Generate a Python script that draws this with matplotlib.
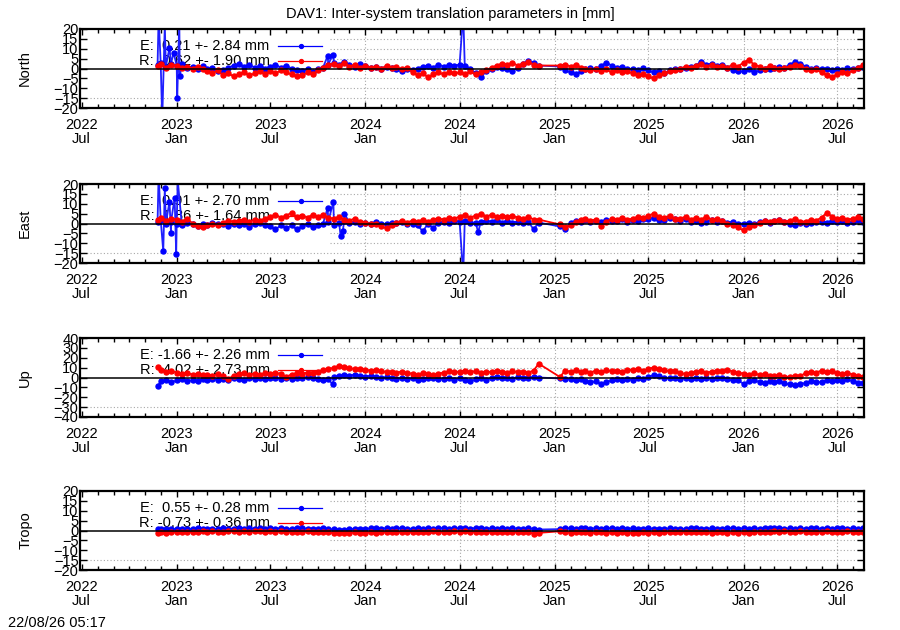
import numpy as np
import pandas as pd
import matplotlib
matplotlib.use("Agg")
import matplotlib.pyplot as plt
import matplotlib.dates as mdates
from matplotlib.patches import Rectangle

nan = np.nan

# Sample epochs: first epoch, then the 1st, 11th and 21st of every month
dates = [pd.Timestamp("2022-11-25")]
for m in pd.period_range("2022-12", "2026-08", freq="M"):
    for d in (1, 11, 21):
        dates.append(pd.Timestamp(m.year, m.month, d))

# rows: Nov/Dec 2022 | Jan-Jun 2023 | Jul-Dec 2023 | ... | Jul-Aug 2026
north_e = [2.0, 3.0, 1.0, 2.5,
           1.5, 2.5, 0.5, 1.0, 0.0, 1.5, -0.5, 0.5, -1.5, -1.0, 0.5, 1.5, 2.5, 1.0, 2.0, 0.5, 1.5, 0.0,
           1.0, 2.0, 0.5, 1.5, 0.0, -1.0, -1.5, -0.5, -2.0, -0.5, 0.5, 2.0, 3.0, 2.0, 3.5, 2.0, 1.0, 2.5,
           1.5, 0.5, 1.0, 0.0, 1.0, 0.5, -0.5, -1.5, -0.5, -1.0, 0.0, 1.0, 1.5, 0.5, 2.0, 1.0, 2.0, 1.5,
           2.0, 1.5, 0.0, -2.5, -4.5, -1.5, 0.0, 1.0, 0.5, -0.5, -1.5, 0.5, 2.5, 4.0, 3.0, 1.5, nan, nan,
           nan, 1.0, -1.0, -2.0, -3.0, -1.5, -0.5, 0.5, -0.5, 1.5, 3.0, 1.5, 0.5, 1.0, -0.5, 0.0, -1.0, 0.5,
           -1.0, -2.0, -1.5, -2.5, -1.0, -0.5, 0.0, 0.5, 1.0, 1.5, 3.5, 2.0, 2.5, 1.5, 2.0, 0.5, -1.0, -1.5,
           -1.5, -0.5, -2.0, -1.0, 0.0, -0.5, 0.5, 1.0, 0.5, 2.0, 3.5, 2.5, 1.0, 0.0, 0.5, -0.5, 0.0, -1.0,
           0.0, -1.0, 0.5, -0.5, 0.5, 1.0]
north_r = [1.5, 2.5, 0.5, 2.0,
           1.5, 0.5, 1.0, 0.0, 1.0, -0.5, -1.5, -2.5, -1.0, -3.5, -2.5, -4.0, -3.0, -2.0, -3.5, -2.5, -1.5, -3.0,
           -1.5, -2.5, -1.0, -2.0, -3.0, -4.0, -3.5, -2.0, -3.0, -1.0, 0.5, 2.0, 2.5, 1.5, 3.0, 1.0, 2.0, 0.5,
           1.5, 0.5, 1.0, 0.0, 1.5, 0.5, 1.0, -0.5, 0.5, -2.0, -3.5, -2.5, -4.5, -3.0, -2.0, -3.0, -2.0, -2.5,
           -2.0, -3.0, -1.5, -3.0, -2.0, -1.0, 0.5, 1.5, 2.5, 2.0, 3.0, 1.5, 2.5, 3.5, 2.0, 1.5, nan, nan,
           nan, 1.5, 2.0, 1.0, 2.0, 0.5, -0.5, -1.0, 0.0, -1.5, -0.5, -2.0, -1.0, -2.0, -1.5, -2.5, -3.5, -3.0,
           -4.0, -5.0, -3.5, -2.5, -1.5, -1.0, 0.0, 1.0, 0.5, 1.5, 2.5, 1.0, 2.0, 1.0, 1.5, 0.5, 2.0, 1.0,
           3.0, 4.5, 2.0, 1.0, 0.0, 1.5, 0.5, -0.5, 0.5, 1.0, 2.0, 1.5, 0.0, -1.0, -0.5, -2.0, -3.5, -4.5,
           -3.0, -2.0, -2.5, -1.0, 0.5, 2.0]
east_e = [1.0, 2.0, 0.0, 1.0,
          0.0, -1.0, 0.5, -0.5, -1.5, 0.0, -1.0, 0.5, -0.5, 0.0, -1.5, -0.5, -1.0, 0.0, -2.0, -0.5, 0.5, -1.0,
          -1.5, -3.0, -1.0, -2.5, -1.0, -3.0, -1.5, -0.5, -2.0, -1.0, 0.0, 1.0, -1.0, 0.5, 1.5, 0.5, 1.0, 0.0,
          0.5, 0.0, 1.0, 0.0, -0.5, 0.5, 0.5, 1.0, 0.0, -0.5, -1.0, -4.0, 0.0, -2.5, 0.5, 1.0, 0.5, 1.5,
          1.0, 1.5, 0.5, 0.5, 1.0, 1.5, 1.0, 2.0, 0.5, 1.5, 0.5, 1.0, 0.5, 1.0, -3.0, 0.5, nan, nan,
          nan, -1.5, -3.0, 0.5, 1.5, 1.0, 2.0, 1.0, 1.5, 1.0, 2.0, 1.5, 1.5, 2.5, 1.0, 2.0, 1.5, 2.5,
          2.5, 3.0, 2.0, 2.0, 3.0, 2.5, 1.5, 2.5, 1.0, 1.5, 0.5, 1.0, 2.0, 1.0, 1.5, 0.5, 1.0, 0.0,
          0.0, 0.5, -0.5, 1.0, 1.5, 0.5, 1.5, 2.0, 1.0, 0.0, -1.0, 0.5, -0.5, 0.5, 1.0, 1.0, 0.5, 1.5,
          1.0, 1.5, 0.5, 1.0, 2.0, 1.0]
east_r = [2.0, 3.0, 1.5, 2.5,
          2.0, 1.0, 2.5, 0.0, -1.5, -2.0, -1.0, 0.0, -1.0, 0.5, 1.5, 1.0, 1.5, 2.0, 1.0, 2.0, 1.5, 2.5,
          3.5, 4.5, 3.0, 4.0, 5.5, 3.5, 4.0, 3.0, 4.5, 3.5, 4.5, 3.0, 2.5, 3.5, 2.0, 1.5, 2.5, 1.0,
          0.5, -0.5, 0.0, -1.5, -2.5, -1.0, 0.5, 1.5, 0.5, 1.5, 1.0, 2.0, 1.0, 2.0, 2.5, 2.0, 3.0, 2.5,
          3.5, 4.5, 3.0, 4.0, 5.0, 3.5, 4.5, 3.5, 4.0, 3.5, 4.0, 3.0, 2.5, 3.5, 2.0, 2.0, nan, nan,
          nan, -0.5, -2.0, -1.0, 1.0, 2.0, 2.5, 1.5, 2.0, -1.5, 1.0, 2.5, 2.0, 3.0, 2.0, 2.5, 3.5, 3.0,
          4.0, 5.0, 3.5, 3.0, 4.0, 2.5, 2.5, 3.5, 2.0, 3.0, 2.0, 3.5, 2.0, 2.5, 1.5, 0.0, -1.0, -2.0,
          -3.5, -2.0, -1.0, 0.5, 1.5, 1.0, 1.5, 2.0, 1.0, 1.5, 2.5, 1.0, 1.0, 2.0, 1.5, 3.0, 5.5, 3.5,
          2.5, 3.0, 2.0, 2.5, 3.5, 2.5]
up_e = [-9.0, -4.0, -3.0, -5.0,
        -3.0, -2.0, -4.0, -2.5, -3.5, -2.0, -3.0, -1.5, -2.5, -2.0, -3.0, -1.0, -1.5, -2.5, -1.0, -2.0, -0.5, -1.5,
        -1.0, 0.0, -1.5, -0.5, -1.5, 0.0, -1.0, 0.5, -0.5, -1.5, -3.0, -2.0, 0.5, 1.5, 2.5, 2.0, 3.0, 1.5,
        1.0, 2.0, 0.5, -0.5, 0.5, -1.0, -1.5, -0.5, -2.0, -1.0, -2.5, -1.5, -1.0, -0.5, -2.0, -1.5, -1.0, -2.5,
        -1.0, -2.5, -4.0, -2.0, -1.0, -2.5, -0.5, 0.5, -1.0, 0.0, -1.5, 0.5, -1.0, 0.0, 0.5, 0.0, nan, nan,
        nan, -1.0, -2.0, -1.5, -3.0, -2.0, -3.5, -5.0, -4.0, -7.0, -4.5, -3.0, -2.0, -3.0, -1.5, -2.5, -1.0, -1.5,
        0.5, 2.5, 1.5, 0.0, -1.0, -0.5, -1.5, -0.5, -2.0, -1.0, -2.0, -0.5, -1.5, -0.5, -1.0, -2.0, -3.0, -2.5,
        -6.5, -4.0, -3.0, -4.5, -5.5, -4.0, -5.0, -4.0, -6.0, -7.0, -8.0, -6.5, -5.5, -4.0, -5.0, -4.5, -3.0, -4.0,
        -2.5, -3.5, -2.0, -4.0, -5.5, -6.0]
up_r = [11.0, 8.0, 6.0, 7.0,
        5.0, 3.5, 4.5, 3.0, 4.0, 2.5, 3.0, 2.0, 3.5, 1.5, -1.5, 2.0, 3.5, 4.5, 3.0, 4.0, 3.0, 4.5,
        4.0, 5.0, 3.5, 1.0, 3.0, 4.5, 4.0, 5.0, 4.5, 6.0, 7.5, 8.5, 10.0, 12.0, 11.0, 9.5, 8.5, 9.0,
        8.0, 7.0, 7.5, 6.5, 5.5, 6.0, 5.0, 6.0, 4.5, 4.0, 3.0, 4.5, 3.5, 2.5, 4.0, 5.0, 6.5, 5.5,
        6.0, 7.0, 5.5, 6.5, 5.0, 6.0, 5.5, 7.0, 6.0, 5.0, 6.5, 5.5, 6.0, 5.0, 7.0, 14.0, nan, nan,
        nan, 0.5, 7.0, 6.0, 7.5, 5.5, 6.5, 5.0, 7.0, 6.0, 7.5, 6.5, 7.0, 6.0, 8.0, 7.5, 8.5, 7.0,
        9.0, 10.0, 8.5, 7.5, 6.5, 7.0, 4.5, 3.5, 5.0, 5.5, 6.5, 5.0, 6.0, 7.0, 6.5, 8.0, 6.0, 5.0,
        4.0, 3.0, 4.5, 2.5, 3.5, 2.0, 1.5, 2.5, 1.0, 0.5, 2.0, 1.5, 4.5, 6.0, 5.0, 7.0, 6.0, 6.5,
        5.0, 4.0, 4.5, 3.0, 1.5, 0.5]
tropo_e = [0.8, 1.0, 0.6, 0.9,
           0.7, 1.0, 0.8, 0.9, 1.2, 0.8, 1.0, 0.7, 0.9, 1.1, 0.8, 1.0, 1.3, 0.9, 1.1, 1.0, 1.2, 0.8,
           1.1, 0.9, 1.3, 1.0, 0.8, 1.1, 1.2, 0.9, 1.0, 0.8, 1.1, 0.7, 0.6, 0.4, 0.5, 0.7, 0.9, 1.0,
           0.8, 1.1, 1.4, 1.0, 1.2, 0.9, 1.1, 1.3, 1.0, 0.9, 1.2, 1.0, 1.1, 0.9, 1.3, 1.2, 1.0, 1.1,
           1.2, 1.4, 1.0, 1.3, 1.1, 0.9, 1.2, 1.0, 1.1, 0.9, 1.2, 1.0, 0.8, 1.1, 0.9, 0.5, nan, nan,
           nan, 0.7, 1.1, 1.2, 1.0, 1.3, 1.1, 0.9, 1.2, 1.0, 1.3, 1.1, 0.9, 1.2, 1.0, 1.1, 0.8, 1.0,
           1.2, 0.9, 1.0, 0.8, 1.1, 0.9, 1.0, 0.8, 1.1, 1.2, 0.9, 1.0, 1.1, 0.8, 1.0, 1.2, 1.3, 1.0,
           1.1, 0.9, 1.2, 1.0, 1.3, 1.1, 1.4, 1.2, 1.0, 1.1, 0.9, 1.2, 1.0, 1.3, 1.1, 0.9, 1.2, 1.0,
           1.1, 1.3, 1.0, 1.2, 0.9, 1.1]
tropo_r = [-1.2, -0.9, -1.1, -0.8,
           -1.0, -0.7, -0.9, -0.6, -0.8, -0.5, -0.7, -0.4, -0.6, -0.8, -0.5, -0.3, -0.6, -0.4, -0.7, -0.5, -0.3, -0.6,
           -0.4, -0.7, -0.5, -0.8, -0.6, -0.9, -0.7, -0.5, -0.8, -0.6, -0.9, -1.0, -1.3, -1.1, -1.4, -1.2, -1.0, -1.3,
           -1.1, -0.9, -1.2, -0.8, -1.0, -0.7, -0.9, -0.6, -0.8, -0.7, -0.9, -0.6, -0.8, -0.5, -0.7, -0.6, -0.8, -0.5,
           -0.7, -0.5, -0.8, -0.6, -0.9, -0.7, -0.8, -1.0, -0.7, -0.9, -0.6, -0.8, -1.0, -0.8, -1.6, -1.2, nan, nan,
           nan, -0.4, -0.9, -1.1, -0.8, -1.0, -0.9, -1.2, -1.0, -0.8, -1.1, -0.9, -1.3, -1.0, -1.2, -1.1, -1.4, -1.0,
           -1.2, -0.9, -1.1, -0.8, -1.0, -0.7, -0.9, -0.6, -0.8, -1.0, -0.7, -0.9, -1.1, -0.8, -1.0, -1.2, -0.9, -1.1,
           -1.0, -1.2, -0.9, -0.7, -0.9, -0.6, -0.5, -0.7, -0.4, -0.6, -0.8, -0.5, -0.7, -0.9, -0.6, -0.8, -0.5, -0.7,
           -0.6, -0.8, -0.5, -0.7, -0.9, -0.6]

# single-epoch outliers of the E solution
north_e_spike_dates = ["2022-11-27", "2022-12-04", "2022-12-09", "2022-12-18", "2022-12-26",
                       "2023-01-02", "2023-01-06", "2023-01-07", "2023-10-20", "2023-10-30", "2024-07-08"]
north_e_spike_vals = [26, -26, 22, 10.5, 8, -15, 24, -4, 6.5, 7, 28]
east_e_spike_dates = ["2022-11-27", "2022-12-06", "2022-12-09", "2022-12-18", "2022-12-21",
                      "2022-12-28", "2022-12-31", "2023-01-03", "2023-10-20", "2023-10-31",
                      "2023-11-14", "2023-11-18", "2023-11-21", "2024-07-08", "2024-08-06"]
east_e_spike_vals = [25, -14, 18, 11, -5, 13, -15.5, 22, 8, 11, -6.5, -4, 5, -26, -4.5]
up_e_spike_dates = ["2023-10-30"]
up_e_spike_vals = [-7.0]

panel_names = ["North", "East", "Up", "Tropo"]
ylims = [20, 20, 40, 20]
ysteps = [5, 5, 10, 5]
e_labels = ["E:  0.21 +- 2.84 mm", "E:  0.91 +- 2.70 mm", "E: -1.66 +- 2.26 mm", "E:  0.55 +- 0.28 mm"]
r_labels = ["R: -0.62 +- 1.90 mm", "R:  1.86 +- 1.64 mm", "R:  4.02 +- 2.73 mm", "R: -0.73 +- 0.36 mm"]
e_data = [north_e, east_e, up_e, tropo_e]
r_data = [north_r, east_r, up_r, tropo_r]
e_spikes = [(north_e_spike_dates, north_e_spike_vals), (east_e_spike_dates, east_e_spike_vals),
            (up_e_spike_dates, up_e_spike_vals), ([], [])]

plt.rcParams['font.family'] = ['Liberation Sans', 'DejaVu Sans']
plt.rcParams['font.size'] = 10.5

fig = plt.figure(figsize=(9, 6.3), dpi=100)
tops = [29, 184, 338, 491]
W, H = 900.0, 630.0

blue = '#0000ff'
red = '#ff0000'


def series(vals, spk=None):
    s = pd.Series(vals, index=pd.DatetimeIndex(dates)).dropna()
    if spk is not None and len(spk[0]) > 0:
        s2 = pd.Series(spk[1], index=pd.to_datetime(spk[0]))
        s = pd.concat([s, s2]).sort_index()
    return s


for i in range(4):
    ax = fig.add_axes([80 / W, 1 - (tops[i] + 79) / H, 784 / W, 79 / H])
    lim = ylims[i]
    ax.set_ylim(-lim, lim)
    ax.set_xlim(pd.Timestamp("2022-06-28"), pd.Timestamp("2026-08-22"))
    ax.set_yticks(np.arange(-lim, lim + 1, ysteps[i]))

    ax.xaxis.set_major_locator(mdates.MonthLocator(bymonth=[1, 7]))
    ax.xaxis.set_minor_locator(mdates.MonthLocator())
    ax.xaxis.set_major_formatter(mdates.DateFormatter("%Y\n%b"))
    ax.tick_params(axis='both', which='both', direction='in', top=True, right=True, width=1.0)
    ax.tick_params(axis='x', which='major', length=4, pad=7)
    ax.tick_params(axis='x', which='minor', length=3)
    ax.tick_params(axis='y', which='major', length=5, pad=1)
    for lab in ax.get_xticklabels():
        lab.set_linespacing(1.0)
    for sp in ax.spines.values():
        sp.set_linewidth(1.6)

    # grid (dotted), partly hidden by the opaque key box
    for t in ax.get_xticks():
        ax.axvline(t, color='#a8a8a8', lw=0.8, ls=(0, (1, 2)), zorder=0.5)
    ax.add_patch(Rectangle((0, 0), 0.319, 1, transform=ax.transAxes, color='white', zorder=0.6, lw=0))
    for t in ax.get_yticks():
        if t != 0 and abs(t) != lim:
            ax.axhline(t, color='#a8a8a8', lw=0.8, ls=(0, (1, 2)), zorder=0.7)
    ax.add_patch(Rectangle((0, 0.19), 0.319, 0.81, transform=ax.transAxes, color='white', zorder=0.8, lw=0))

    se = series(e_data[i], e_spikes[i])
    sr = series(r_data[i])
    ax.plot(se.index, se.values, '-', color='#2020ff', lw=1.3, marker='o', ms=3.6,
            mfc=blue, mec=blue, zorder=2)
    ax.plot(sr.index, sr.values, '-', color=red, lw=1.3, marker='o', ms=3.6,
            mfc=red, mec=red, zorder=2.1)
    ax.axhline(0, color='black', lw=1.1, zorder=3)

    # key
    for lab, col, yk in ((e_labels[i], blue, 0.785), (r_labels[i], red, 0.595)):
        ax.text(0.242, yk, lab, transform=ax.transAxes, ha='right', va='center', zorder=1.9)
        ax.plot([0.253, 0.309], [yk, yk], transform=ax.transAxes, color=col, lw=0.9, zorder=1.9)
        ax.plot([0.282], [yk], transform=ax.transAxes, marker='o', ms=2.8, color=col, zorder=1.9)

    ax.set_ylabel(panel_names[i])
    ax.yaxis.set_label_coords(-0.061, 0.5)

fig.text(0.5, 1 - 14 / H, "DAV1: Inter-system translation parameters in [mm]", ha='center', va='center')
fig.text(8 / W, 1 - 623 / H, "22/08/26 05:17", ha='left', va='center')

fig.savefig("out.png", dpi=100)
